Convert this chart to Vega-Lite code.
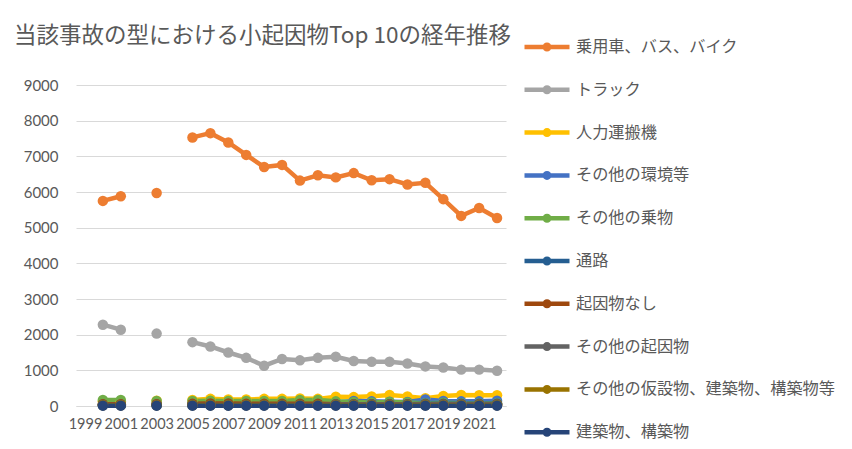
{
  "$schema": "https://vega.github.io/schema/vega-lite/v6.json",
  "width": 430,
  "height": 321,
  "autosize": "none",
  "padding": {"left": 76, "top": 85, "right": 346, "bottom": 43},
  "background": "white",
  "title": {
    "text": "当該事故の型における小起因物Top 10の経年推移",
    "anchor": "start",
    "frame": "group",
    "dx": -62,
    "dy": 29,
    "font": "Noto Sans CJK JP",
    "fontSize": 22.5,
    "fontWeight": "normal",
    "color": "#595959"
  },
  "datasets": {
    "d": [
      {"year": 2000, "cause": "乗用車、バス、バイク", "n": 5750},
      {"year": 2001, "cause": "乗用車、バス、バイク", "n": 5880},
      {"year": 2002, "cause": "乗用車、バス、バイク", "n": null},
      {"year": 2003, "cause": "乗用車、バス、バイク", "n": 5970},
      {"year": 2004, "cause": "乗用車、バス、バイク", "n": null},
      {"year": 2005, "cause": "乗用車、バス、バイク", "n": 7530},
      {"year": 2006, "cause": "乗用車、バス、バイク", "n": 7650},
      {"year": 2007, "cause": "乗用車、バス、バイク", "n": 7390},
      {"year": 2008, "cause": "乗用車、バス、バイク", "n": 7040},
      {"year": 2009, "cause": "乗用車、バス、バイク", "n": 6700},
      {"year": 2010, "cause": "乗用車、バス、バイク", "n": 6760},
      {"year": 2011, "cause": "乗用車、バス、バイク", "n": 6320},
      {"year": 2012, "cause": "乗用車、バス、バイク", "n": 6470},
      {"year": 2013, "cause": "乗用車、バス、バイク", "n": 6410},
      {"year": 2014, "cause": "乗用車、バス、バイク", "n": 6530},
      {"year": 2015, "cause": "乗用車、バス、バイク", "n": 6330},
      {"year": 2016, "cause": "乗用車、バス、バイク", "n": 6360},
      {"year": 2017, "cause": "乗用車、バス、バイク", "n": 6210},
      {"year": 2018, "cause": "乗用車、バス、バイク", "n": 6260},
      {"year": 2019, "cause": "乗用車、バス、バイク", "n": 5800},
      {"year": 2020, "cause": "乗用車、バス、バイク", "n": 5330},
      {"year": 2021, "cause": "乗用車、バス、バイク", "n": 5550},
      {"year": 2022, "cause": "乗用車、バス、バイク", "n": 5270},

      {"year": 2000, "cause": "トラック", "n": 2280},
      {"year": 2001, "cause": "トラック", "n": 2140},
      {"year": 2002, "cause": "トラック", "n": null},
      {"year": 2003, "cause": "トラック", "n": 2030},
      {"year": 2004, "cause": "トラック", "n": null},
      {"year": 2005, "cause": "トラック", "n": 1790},
      {"year": 2006, "cause": "トラック", "n": 1670},
      {"year": 2007, "cause": "トラック", "n": 1500},
      {"year": 2008, "cause": "トラック", "n": 1350},
      {"year": 2009, "cause": "トラック", "n": 1130},
      {"year": 2010, "cause": "トラック", "n": 1320},
      {"year": 2011, "cause": "トラック", "n": 1280},
      {"year": 2012, "cause": "トラック", "n": 1350},
      {"year": 2013, "cause": "トラック", "n": 1380},
      {"year": 2014, "cause": "トラック", "n": 1260},
      {"year": 2015, "cause": "トラック", "n": 1240},
      {"year": 2016, "cause": "トラック", "n": 1240},
      {"year": 2017, "cause": "トラック", "n": 1190},
      {"year": 2018, "cause": "トラック", "n": 1110},
      {"year": 2019, "cause": "トラック", "n": 1080},
      {"year": 2020, "cause": "トラック", "n": 1020},
      {"year": 2021, "cause": "トラック", "n": 1020},
      {"year": 2022, "cause": "トラック", "n": 990},

      {"year": 2000, "cause": "人力運搬機", "n": 130},
      {"year": 2001, "cause": "人力運搬機", "n": 130},
      {"year": 2002, "cause": "人力運搬機", "n": null},
      {"year": 2003, "cause": "人力運搬機", "n": 150},
      {"year": 2004, "cause": "人力運搬機", "n": null},
      {"year": 2005, "cause": "人力運搬機", "n": 170},
      {"year": 2006, "cause": "人力運搬機", "n": 200},
      {"year": 2007, "cause": "人力運搬機", "n": 180},
      {"year": 2008, "cause": "人力運搬機", "n": 180},
      {"year": 2009, "cause": "人力運搬機", "n": 200},
      {"year": 2010, "cause": "人力運搬機", "n": 200},
      {"year": 2011, "cause": "人力運搬機", "n": 210},
      {"year": 2012, "cause": "人力運搬機", "n": 200},
      {"year": 2013, "cause": "人力運搬機", "n": 260},
      {"year": 2014, "cause": "人力運搬機", "n": 250},
      {"year": 2015, "cause": "人力運搬機", "n": 270},
      {"year": 2016, "cause": "人力運搬機", "n": 310},
      {"year": 2017, "cause": "人力運搬機", "n": 270},
      {"year": 2018, "cause": "人力運搬機", "n": 220},
      {"year": 2019, "cause": "人力運搬機", "n": 280},
      {"year": 2020, "cause": "人力運搬機", "n": 310},
      {"year": 2021, "cause": "人力運搬機", "n": 300},
      {"year": 2022, "cause": "人力運搬機", "n": 300},

      {"year": 2000, "cause": "その他の環境等", "n": 30},
      {"year": 2001, "cause": "その他の環境等", "n": 30},
      {"year": 2002, "cause": "その他の環境等", "n": null},
      {"year": 2003, "cause": "その他の環境等", "n": 30},
      {"year": 2004, "cause": "その他の環境等", "n": null},
      {"year": 2005, "cause": "その他の環境等", "n": 40},
      {"year": 2006, "cause": "その他の環境等", "n": 40},
      {"year": 2007, "cause": "その他の環境等", "n": 40},
      {"year": 2008, "cause": "その他の環境等", "n": 50},
      {"year": 2009, "cause": "その他の環境等", "n": 50},
      {"year": 2010, "cause": "その他の環境等", "n": 50},
      {"year": 2011, "cause": "その他の環境等", "n": 60},
      {"year": 2012, "cause": "その他の環境等", "n": 60},
      {"year": 2013, "cause": "その他の環境等", "n": 90},
      {"year": 2014, "cause": "その他の環境等", "n": 140},
      {"year": 2015, "cause": "その他の環境等", "n": 130},
      {"year": 2016, "cause": "その他の環境等", "n": 120},
      {"year": 2017, "cause": "その他の環境等", "n": 110},
      {"year": 2018, "cause": "その他の環境等", "n": 180},
      {"year": 2019, "cause": "その他の環境等", "n": 140},
      {"year": 2020, "cause": "その他の環境等", "n": 130},
      {"year": 2021, "cause": "その他の環境等", "n": 130},
      {"year": 2022, "cause": "その他の環境等", "n": 150},

      {"year": 2000, "cause": "その他の乗物", "n": 170},
      {"year": 2001, "cause": "その他の乗物", "n": 170},
      {"year": 2002, "cause": "その他の乗物", "n": null},
      {"year": 2003, "cause": "その他の乗物", "n": 140},
      {"year": 2004, "cause": "その他の乗物", "n": null},
      {"year": 2005, "cause": "その他の乗物", "n": 140},
      {"year": 2006, "cause": "その他の乗物", "n": 150},
      {"year": 2007, "cause": "その他の乗物", "n": 140},
      {"year": 2008, "cause": "その他の乗物", "n": 140},
      {"year": 2009, "cause": "その他の乗物", "n": 140},
      {"year": 2010, "cause": "その他の乗物", "n": 140},
      {"year": 2011, "cause": "その他の乗物", "n": 170},
      {"year": 2012, "cause": "その他の乗物", "n": 170},
      {"year": 2013, "cause": "その他の乗物", "n": 130},
      {"year": 2014, "cause": "その他の乗物", "n": 110},
      {"year": 2015, "cause": "その他の乗物", "n": 100},
      {"year": 2016, "cause": "その他の乗物", "n": 110},
      {"year": 2017, "cause": "その他の乗物", "n": 100},
      {"year": 2018, "cause": "その他の乗物", "n": 80},
      {"year": 2019, "cause": "その他の乗物", "n": 90},
      {"year": 2020, "cause": "その他の乗物", "n": 80},
      {"year": 2021, "cause": "その他の乗物", "n": 80},
      {"year": 2022, "cause": "その他の乗物", "n": 80},

      {"year": 2000, "cause": "通路", "n": 40},
      {"year": 2001, "cause": "通路", "n": 40},
      {"year": 2002, "cause": "通路", "n": null},
      {"year": 2003, "cause": "通路", "n": 40},
      {"year": 2004, "cause": "通路", "n": null},
      {"year": 2005, "cause": "通路", "n": 40},
      {"year": 2006, "cause": "通路", "n": 40},
      {"year": 2007, "cause": "通路", "n": 40},
      {"year": 2008, "cause": "通路", "n": 40},
      {"year": 2009, "cause": "通路", "n": 40},
      {"year": 2010, "cause": "通路", "n": 40},
      {"year": 2011, "cause": "通路", "n": 40},
      {"year": 2012, "cause": "通路", "n": 40},
      {"year": 2013, "cause": "通路", "n": 50},
      {"year": 2014, "cause": "通路", "n": 50},
      {"year": 2015, "cause": "通路", "n": 50},
      {"year": 2016, "cause": "通路", "n": 50},
      {"year": 2017, "cause": "通路", "n": 50},
      {"year": 2018, "cause": "通路", "n": 60},
      {"year": 2019, "cause": "通路", "n": 60},
      {"year": 2020, "cause": "通路", "n": 60},
      {"year": 2021, "cause": "通路", "n": 60},
      {"year": 2022, "cause": "通路", "n": 60},

      {"year": 2000, "cause": "起因物なし", "n": 50},
      {"year": 2001, "cause": "起因物なし", "n": 50},
      {"year": 2002, "cause": "起因物なし", "n": null},
      {"year": 2003, "cause": "起因物なし", "n": 50},
      {"year": 2004, "cause": "起因物なし", "n": null},
      {"year": 2005, "cause": "起因物なし", "n": 60},
      {"year": 2006, "cause": "起因物なし", "n": 70},
      {"year": 2007, "cause": "起因物なし", "n": 70},
      {"year": 2008, "cause": "起因物なし", "n": 60},
      {"year": 2009, "cause": "起因物なし", "n": 60},
      {"year": 2010, "cause": "起因物なし", "n": 60},
      {"year": 2011, "cause": "起因物なし", "n": 60},
      {"year": 2012, "cause": "起因物なし", "n": 60},
      {"year": 2013, "cause": "起因物なし", "n": 50},
      {"year": 2014, "cause": "起因物なし", "n": 50},
      {"year": 2015, "cause": "起因物なし", "n": 50},
      {"year": 2016, "cause": "起因物なし", "n": 50},
      {"year": 2017, "cause": "起因物なし", "n": 50},
      {"year": 2018, "cause": "起因物なし", "n": 50},
      {"year": 2019, "cause": "起因物なし", "n": 50},
      {"year": 2020, "cause": "起因物なし", "n": 50},
      {"year": 2021, "cause": "起因物なし", "n": 50},
      {"year": 2022, "cause": "起因物なし", "n": 50},

      {"year": 2000, "cause": "その他の起因物", "n": 30},
      {"year": 2001, "cause": "その他の起因物", "n": 30},
      {"year": 2002, "cause": "その他の起因物", "n": null},
      {"year": 2003, "cause": "その他の起因物", "n": 30},
      {"year": 2004, "cause": "その他の起因物", "n": null},
      {"year": 2005, "cause": "その他の起因物", "n": 30},
      {"year": 2006, "cause": "その他の起因物", "n": 30},
      {"year": 2007, "cause": "その他の起因物", "n": 30},
      {"year": 2008, "cause": "その他の起因物", "n": 30},
      {"year": 2009, "cause": "その他の起因物", "n": 30},
      {"year": 2010, "cause": "その他の起因物", "n": 30},
      {"year": 2011, "cause": "その他の起因物", "n": 30},
      {"year": 2012, "cause": "その他の起因物", "n": 30},
      {"year": 2013, "cause": "その他の起因物", "n": 40},
      {"year": 2014, "cause": "その他の起因物", "n": 40},
      {"year": 2015, "cause": "その他の起因物", "n": 40},
      {"year": 2016, "cause": "その他の起因物", "n": 40},
      {"year": 2017, "cause": "その他の起因物", "n": 40},
      {"year": 2018, "cause": "その他の起因物", "n": 40},
      {"year": 2019, "cause": "その他の起因物", "n": 40},
      {"year": 2020, "cause": "その他の起因物", "n": 40},
      {"year": 2021, "cause": "その他の起因物", "n": 40},
      {"year": 2022, "cause": "その他の起因物", "n": 40},

      {"year": 2000, "cause": "その他の仮設物、建築物、構築物等", "n": 20},
      {"year": 2001, "cause": "その他の仮設物、建築物、構築物等", "n": 20},
      {"year": 2002, "cause": "その他の仮設物、建築物、構築物等", "n": null},
      {"year": 2003, "cause": "その他の仮設物、建築物、構築物等", "n": 20},
      {"year": 2004, "cause": "その他の仮設物、建築物、構築物等", "n": null},
      {"year": 2005, "cause": "その他の仮設物、建築物、構築物等", "n": 20},
      {"year": 2006, "cause": "その他の仮設物、建築物、構築物等", "n": 20},
      {"year": 2007, "cause": "その他の仮設物、建築物、構築物等", "n": 20},
      {"year": 2008, "cause": "その他の仮設物、建築物、構築物等", "n": 20},
      {"year": 2009, "cause": "その他の仮設物、建築物、構築物等", "n": 20},
      {"year": 2010, "cause": "その他の仮設物、建築物、構築物等", "n": 20},
      {"year": 2011, "cause": "その他の仮設物、建築物、構築物等", "n": 20},
      {"year": 2012, "cause": "その他の仮設物、建築物、構築物等", "n": 20},
      {"year": 2013, "cause": "その他の仮設物、建築物、構築物等", "n": 20},
      {"year": 2014, "cause": "その他の仮設物、建築物、構築物等", "n": 20},
      {"year": 2015, "cause": "その他の仮設物、建築物、構築物等", "n": 20},
      {"year": 2016, "cause": "その他の仮設物、建築物、構築物等", "n": 20},
      {"year": 2017, "cause": "その他の仮設物、建築物、構築物等", "n": 20},
      {"year": 2018, "cause": "その他の仮設物、建築物、構築物等", "n": 20},
      {"year": 2019, "cause": "その他の仮設物、建築物、構築物等", "n": 20},
      {"year": 2020, "cause": "その他の仮設物、建築物、構築物等", "n": 20},
      {"year": 2021, "cause": "その他の仮設物、建築物、構築物等", "n": 20},
      {"year": 2022, "cause": "その他の仮設物、建築物、構築物等", "n": 20},

      {"year": 2000, "cause": "建築物、構築物", "n": 10},
      {"year": 2001, "cause": "建築物、構築物", "n": 10},
      {"year": 2002, "cause": "建築物、構築物", "n": null},
      {"year": 2003, "cause": "建築物、構築物", "n": 10},
      {"year": 2004, "cause": "建築物、構築物", "n": null},
      {"year": 2005, "cause": "建築物、構築物", "n": 10},
      {"year": 2006, "cause": "建築物、構築物", "n": 10},
      {"year": 2007, "cause": "建築物、構築物", "n": 10},
      {"year": 2008, "cause": "建築物、構築物", "n": 10},
      {"year": 2009, "cause": "建築物、構築物", "n": 10},
      {"year": 2010, "cause": "建築物、構築物", "n": 10},
      {"year": 2011, "cause": "建築物、構築物", "n": 10},
      {"year": 2012, "cause": "建築物、構築物", "n": 10},
      {"year": 2013, "cause": "建築物、構築物", "n": 10},
      {"year": 2014, "cause": "建築物、構築物", "n": 10},
      {"year": 2015, "cause": "建築物、構築物", "n": 10},
      {"year": 2016, "cause": "建築物、構築物", "n": 10},
      {"year": 2017, "cause": "建築物、構築物", "n": 10},
      {"year": 2018, "cause": "建築物、構築物", "n": 10},
      {"year": 2019, "cause": "建築物、構築物", "n": 10},
      {"year": 2020, "cause": "建築物、構築物", "n": 10},
      {"year": 2021, "cause": "建築物、構築物", "n": 10},
      {"year": 2022, "cause": "建築物、構築物", "n": 10}
    ]
  },
  "data": {"name": "d"},
  "encoding": {
    "x": {
      "field": "year",
      "type": "ordinal",
      "scale": {"domain": [1999, 2000, 2001, 2002, 2003, 2004, 2005, 2006, 2007, 2008, 2009, 2010, 2011, 2012, 2013, 2014, 2015, 2016, 2017, 2018, 2019, 2020, 2021, 2022]},
      "axis": {
        "title": null,
        "labelAngle": 0,
        "labelExpr": "datum.value % 2 == 1 ? datum.label : ''",
        "labelOverlap": false,
        "ticks": false,
        "domainColor": "#d9d9d9",
        "domainWidth": 1,
        "labelFont": "Lato",
        "labelFontSize": 14.5,
        "labelColor": "#595959",
        "labelPadding": 11,
        "grid": false
      }
    },
    "y": {
      "field": "n",
      "type": "quantitative",
      "scale": {"domain": [0, 9000], "nice": false},
      "axis": {
        "title": null,
        "values": [0, 1000, 2000, 3000, 4000, 5000, 6000, 7000, 8000, 9000],
        "format": "d",
        "domain": false,
        "ticks": false,
        "labelPadding": 18,
        "labelFont": "Lato",
        "labelFontSize": 15,
        "labelColor": "#595959",
        "gridColor": "#d9d9d9",
        "gridWidth": 1
      }
    },
    "color": {
      "field": "cause",
      "type": "nominal",
      "sort": null,
      "scale": {
        "domain": ["乗用車、バス、バイク", "トラック", "人力運搬機", "その他の環境等", "その他の乗物", "通路", "起因物なし", "その他の起因物", "その他の仮設物、建築物、構築物等", "建築物、構築物"],
        "range": ["#ED7D31", "#A5A5A5", "#FFC000", "#4472C4", "#70AD47", "#255E91", "#9E480E", "#636363", "#997300", "#264478"]
      },
      "legend": {
        "orient": "none",
        "legendX": 446,
        "legendY": -63,
        "title": null,
        "symbolType": "M-1,0H1M-0.1,0A0.1,0.1 0 1,0 0.1,0A0.1,0.1 0 1,0 -0.1,0",
        "symbolSize": 2025,
        "symbolStrokeWidth": 4.5,
        "symbolFillColor": "transparent",
        "labelFont": "Noto Sans CJK JP",
        "labelFontSize": 16.2,
        "labelColor": "#595959",
        "labelOffset": 4,
        "labelLimit": 400,
        "rowPadding": 5.8
      }
    }
  },
  "layer": [
    {"mark": {"type": "line", "strokeWidth": 4.5, "invalid": "break-paths-show-domains"}},
    {"mark": {"type": "point", "filled": true, "size": 110, "opacity": 1}}
  ],
  "config": {"view": {"stroke": null}}
}
